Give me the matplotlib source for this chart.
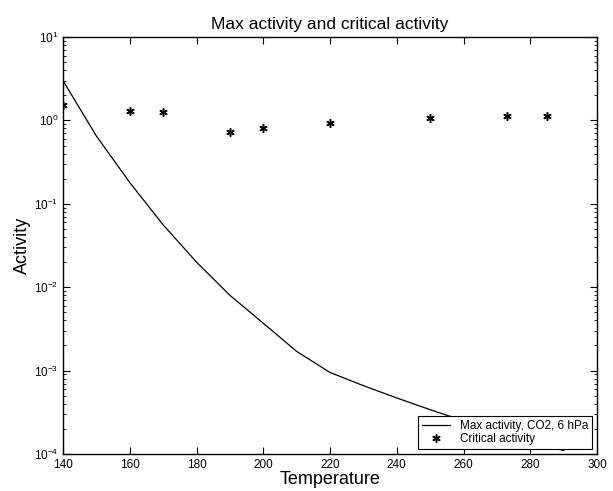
import matplotlib.pyplot as plt
from matplotlib.ticker import LogLocator, NullFormatter

plt.rcParams["font.family"] = ["Liberation Sans", "DejaVu Sans"]

# max activity curve (CO2, 6 hPa)
temp_max = [140, 150, 160, 170, 180, 190, 200, 210, 220, 230, 240, 250, 260, 270, 280, 290]
act_max = [3.0, 0.65, 0.18, 0.056, 0.02, 0.008, 0.0037, 0.0017, 0.00095,
           0.00066, 0.00047, 0.00034, 0.00025, 0.00019, 0.00014, 0.00011]

# critical activity points
temp_crit = [140, 160, 170, 190, 200, 220, 250, 273, 285]
act_crit = [1.55, 1.3, 1.26, 0.72, 0.8, 0.92, 1.07, 1.12, 1.13]


def main() -> None:
    fig = plt.figure(figsize=(6.13, 4.91), dpi=100)
    ax = fig.add_axes([63 / 613, 1 - 454 / 491, 534 / 613, 417 / 491])

    ax.plot(temp_max, act_max, color="black", lw=0.9, label="Max activity, CO2, 6 hPa")
    ax.plot(temp_crit, act_crit, ls="none", marker=(6, 2, 0), ms=6, mew=1.1,
            color="black", label="Critical activity")

    ax.set_yscale("log")
    ax.set_xlim(140, 300)
    ax.set_ylim(1e-4, 1e1)
    ax.set_xticks(range(140, 301, 20))
    ax.yaxis.set_major_locator(LogLocator(base=10, numticks=10))
    ax.yaxis.set_minor_locator(LogLocator(base=10, subs=range(2, 10), numticks=10))
    ax.yaxis.set_minor_formatter(NullFormatter())

    ax.tick_params(which="both", direction="in", top=True, right=True, labelsize=8.5)
    ax.tick_params(which="major", length=5)
    ax.tick_params(which="minor", length=2.5)
    for s in ax.spines.values():
        s.set_linewidth(1.0)

    ax.set_xlabel("Temperature", fontsize=13, labelpad=0)
    ax.set_ylabel("Activity", fontsize=13, labelpad=2)
    ax.set_title("Max activity and critical activity", fontsize=12.5, pad=6)

    leg = ax.legend(loc="lower right", fontsize=8.5, frameon=True, fancybox=False,
                    edgecolor="black", framealpha=1, borderpad=0.35, labelspacing=0.1,
                    handlelength=2.4, borderaxespad=0.4)
    leg.get_frame().set_linewidth(0.8)

    fig.savefig("out.png", dpi=100)
    plt.close(fig)


if __name__ == "__main__":
    main()
